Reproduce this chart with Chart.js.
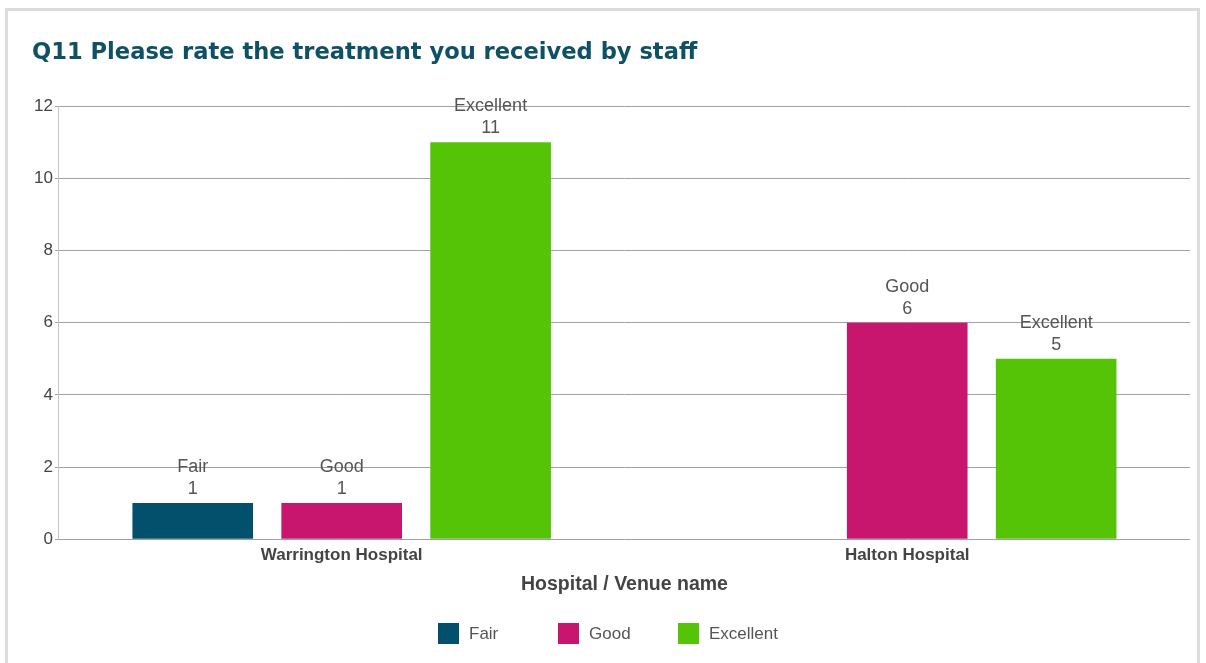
<!DOCTYPE html>
<html>
<head>
<meta charset="utf-8">
<script src="https://cdn.jsdelivr.net/npm/chart.js@4/dist/chart.umd.min.js"></script>
<style>
  html, body { margin: 0; padding: 0; background: #fff; overflow: hidden; }
  #frame { position: absolute; left: 5px; top: 8px; width: 1195px; height: 700px; border: 3px solid #dcdcdc; box-sizing: border-box; }
  #wrap { position: absolute; left: 0; top: 0; width: 1206px; height: 663px; }
  #legend { position: absolute; top: 623px; left: 438px; display: flex; font-family: "Liberation Sans", Arial, sans-serif; font-size: 17px; color: #555; }
  .item { width: 120px; display: flex; align-items: center; }
  .box { width: 21px; height: 21px; margin-right: 10px; }
</style>
</head>
<body>
<div id="frame"></div>
<div id="wrap"><canvas id="c" width="1206" height="663"></canvas></div>
<div id="legend"></div>
<script>
const categories = ["Warrington Hospital", "Halton Hospital"];
const seriesNames = ["Fair", "Good", "Excellent"];
const fairValues = [1, null];
const goodValues = [1, 6];
const excellentValues = [11, 5];
const yTicks = [0, 2, 4, 6, 8, 10, 12];
const colors = ["#02506b", "#c8166f", "#56c406"];

const valueLists = [fairValues, goodValues, excellentValues];

const labelPlugin = {
  id: 'barLabels',
  afterDatasetsDraw(chart) {
    const ctx = chart.ctx;
    ctx.save();
    ctx.font = '18px "Liberation Sans", Arial, sans-serif';
    ctx.fillStyle = '#555';
    ctx.textAlign = 'center';
    ctx.textBaseline = 'middle';
    chart.data.datasets.forEach((ds, i) => {
      const meta = chart.getDatasetMeta(i);
      meta.data.forEach((bar, j) => {
        const v = ds.data[j];
        if (v === null || v === undefined) return;
        ctx.fillText(ds.label, bar.x, bar.y - 36);
        ctx.fillText(String(v), bar.x, bar.y - 14);
      });
    });
    ctx.restore();
  }
};

const chart = new Chart(document.getElementById('c'), {
  type: 'bar',
  data: {
    labels: categories,
    datasets: seriesNames.map((name, i) => ({
      label: name,
      data: valueLists[i],
      backgroundColor: colors[i],
      borderWidth: 0,
      categoryPercentage: 0.79,
      barPercentage: 0.81
    }))
  },
  options: {
    responsive: false,
    devicePixelRatio: 1,
    animation: false,
    layout: { padding: { left: 32, right: 16, top: 0, bottom: 63 } },
    plugins: {
      legend: { display: false },
      tooltip: { enabled: false },
      title: {
        display: true,
        text: 'Q11 Please rate the treatment you received by staff',
        align: 'start',
        color: '#0e5166',
        font: { family: '"DejaVu Sans", Verdana, sans-serif', size: 22.6, weight: 'bold' },
        padding: { top: 40, bottom: 39 }
      }
    },
    scales: {
      x: {
        grid: { display: false, drawTicks: false, tickLength: 0 },
        border: { display: false },
        ticks: {
          color: '#444',
          padding: 6,
          font: { family: '"Liberation Sans", Arial, sans-serif', size: 17, weight: 'bold' }
        },
        title: {
          display: true,
          text: 'Hospital / Venue name',
          color: '#444',
          padding: { top: 1, bottom: 4 },
          font: { family: '"Liberation Sans", Arial, sans-serif', size: 19.5, weight: 'bold' }
        }
      },
      y: {
        min: 0,
        max: 12,
        afterBuildTicks(scale) { scale.ticks = yTicks.map(v => ({ value: v })); },
        grid: { color: '#a0a0a0', lineWidth: 1, tickLength: 4 },
        border: { display: true, color: '#c4c4c4', width: 1 },
        ticks: {
          color: '#444',
          padding: 2,
          font: { family: '"Liberation Sans", Arial, sans-serif', size: 17 }
        }
      }
    }
  },
  plugins: [labelPlugin]
});

const legend = document.getElementById('legend');
seriesNames.forEach((name, i) => {
  const item = document.createElement('div');
  item.className = 'item';
  const box = document.createElement('div');
  box.className = 'box';
  box.style.background = colors[i];
  const t = document.createElement('span');
  t.textContent = name;
  item.appendChild(box);
  item.appendChild(t);
  legend.appendChild(item);
});
</script>
</body>
</html>
